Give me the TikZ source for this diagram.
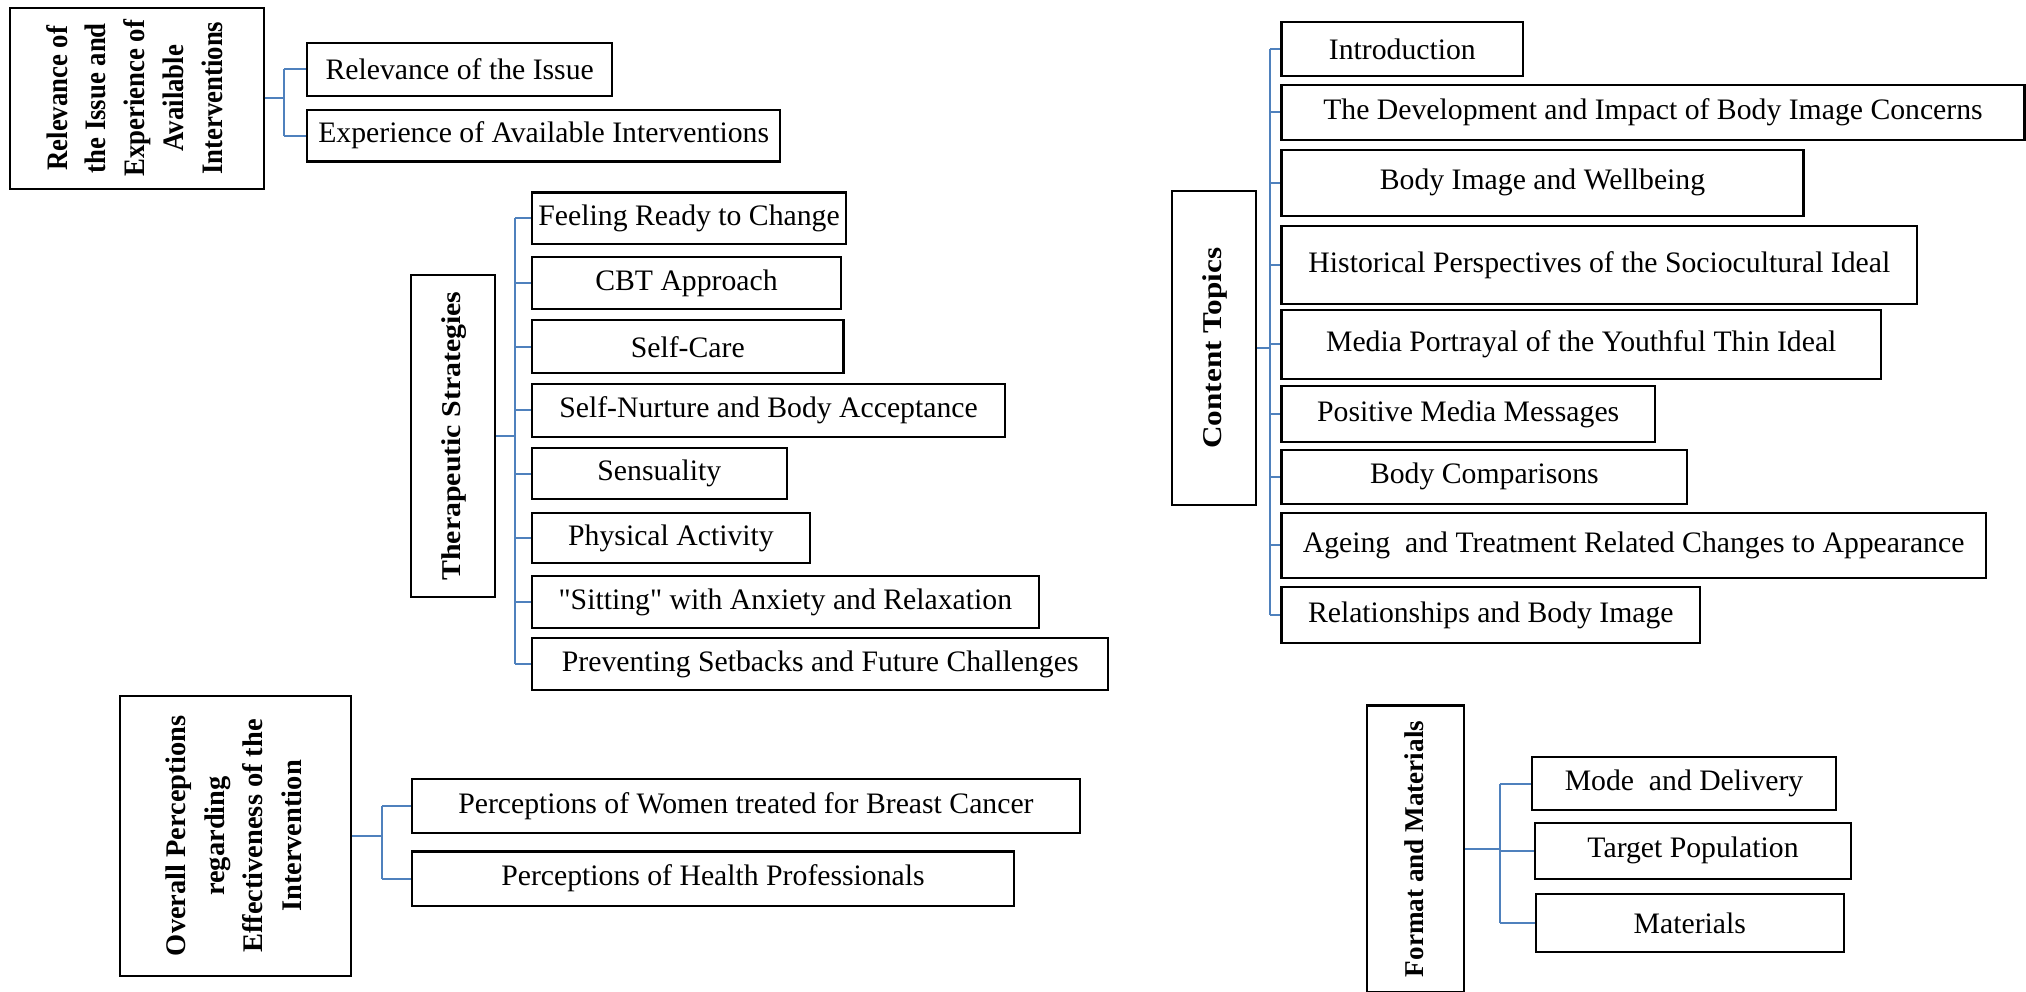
\documentclass[tikz,border=0pt]{standalone}
\usepackage{fontspec}
\setmainfont{Liberation Serif}
\usepackage{xcolor}
\usetikzlibrary{positioning}

\definecolor{linkblue}{RGB}{79,129,189}

% [stretch along text]{font size}{lines}
\newcommand{\vtext}[3][1]{\rotatebox{90}{\scalebox{#1}[1]{\fontsize{#2}{30}\selectfont\bfseries
  \begin{tabular}{@{}c@{}}#3\end{tabular}}}}

\tikzset{
  topic/.style={draw, line width=1.6pt, inner sep=0pt},
  sub/.style={draw, line width=1.6pt, anchor=west, inner sep=0pt,
    font=\fontsize{23}{27}\selectfont},
  link/.style={draw=linkblue, line width=1.6pt}
}

\begin{document}
\begin{tikzpicture}[x=1pt,y=-1pt]
        \clip (0,0) rectangle (1568,767);

        %Relevance
        \node[topic, minimum width=196pt, minimum height=140pt] (rel) at (106,76)
          {\vtext[0.9]{23}{Relevance of\\the Issue and\\Experience of\\Available\\Interventions}};
        \node[sub, minimum width=236pt, minimum height=41pt] (r1) at (237,53.5) {Relevance of the Issue};
        \node[sub, minimum width=366pt, minimum height=40pt] (r2) at (237,105) {Experience of Available Interventions};
        \coordinate (rs) at ([xshift=15pt]rel.east);
        \draw[link] (rel.east) -- (rs);
        \draw[link] (rs |- r1.west) -- (rs |- r2.west);
        \foreach \c in {r1,r2} \draw[link] (rs |- \c.west) -- (\c.west);

        %Therapeutic Strategies
        \node[topic, minimum width=65pt, minimum height=249pt] (ther) at (350.5,337.5)
          {\vtext[1.1]{21}{Therapeutic Strategies}};
        \node[sub, minimum width=243pt, minimum height=40pt] (t1) at (411,169) {Feeling Ready to Change};
        \node[sub, minimum width=239pt, minimum height=40pt] (t2) at (411,219) {CBT Approach};
        \node[sub, minimum width=241pt, minimum height=41pt] (t3) at (411,268.5) {Self-Care};
        \node[sub, minimum width=366pt, minimum height=41pt] (t4) at (411,317.5) {Self-Nurture and Body Acceptance};
        \node[sub, minimum width=197pt, minimum height=39pt] (t5) at (411,366.5) {Sensuality};
        \node[sub, minimum width=215pt, minimum height=39pt] (t6) at (411,416.5) {Physical Activity};
        \node[sub, minimum width=392pt, minimum height=40pt] (t7) at (411,466) {\textquotedbl Sitting\textquotedbl{} with Anxiety and Relaxation};
        \node[sub, minimum width=446pt, minimum height=40pt] (t8) at (411,514) {Preventing Setbacks and Future Challenges};
        \coordinate (ts) at ([xshift=15pt]ther.east);
        \draw[link] (ther.east) -- (ts);
        \draw[link] (ts |- t1.west) -- (ts |- t8.west);
        \foreach \c in {t1,t2,t3,t4,t5,t6,t7,t8} \draw[link] (ts |- \c.west) -- (\c.west);

        %Content Topics
        \node[topic, minimum width=65pt, minimum height=243pt] (cont) at (939.5,269.5)
          {\vtext[1.15]{21}{Content Topics}};
        \node[sub, minimum width=187pt, minimum height=42pt] (c1) at (991,38) {Introduction};
        \node[sub, minimum width=575pt, minimum height=42pt] (c2) at (991,87) {The Development and Impact of Body Image Concerns};
        \node[sub, minimum width=404pt, minimum height=51pt] (c3) at (991,141.5) {Body Image and Wellbeing};
        \node[sub, minimum width=492pt, minimum height=60pt] (c4) at (991,205) {Historical Perspectives of the Sociocultural Ideal};
        \node[sub, minimum width=464pt, minimum height=53pt] (c5) at (991,266.5) {Media Portrayal of the Youthful Thin Ideal};
        \node[sub, minimum width=289pt, minimum height=43pt] (c6) at (991,320.5) {Positive Media Messages};
        \node[sub, minimum width=314pt, minimum height=42pt] (c7) at (991,369) {Body Comparisons};
        \node[sub, minimum width=545pt, minimum height=50pt] (c8) at (991,422) {Ageing~ and Treatment Related Changes to Appearance};
        \node[sub, minimum width=324pt, minimum height=44pt] (c9) at (991,476) {Relationships and Body Image};
        \coordinate (cs) at ([xshift=10pt]cont.east);
        \draw[link] (cont.east) -- (cs);
        \draw[link] (cs |- c1.west) -- (cs |- c9.west);
        \foreach \c in {c1,c2,c3,c4,c5,c6,c7,c8,c9} \draw[link] (cs |- \c.west) -- (\c.west);

        %Overall Perceptions
        \node[topic, minimum width=179pt, minimum height=216pt] (over) at (182.5,647)
          {\vtext{22}{Overall Perceptions\\regarding\\Effectiveness of the\\Intervention}};
        \node[sub, minimum width=517pt, minimum height=42pt] (o1) at (318,624) {Perceptions of Women treated for Breast Cancer};
        \node[sub, minimum width=466pt, minimum height=42pt] (o2) at (318,680) {Perceptions of Health Professionals};
        \coordinate (os) at ([xshift=23pt]over.east);
        \draw[link] (over.east) -- (os);
        \draw[link] (os |- o1.west) -- (os |- o2.west);
        \foreach \c in {o1,o2} \draw[link] (os |- \c.west) -- (\c.west);

        %Format and Materials
        \node[topic, minimum width=75pt, minimum height=222pt] (form) at (1095.5,657)
          {\vtext{21}{Format and Materials}};
        \node[sub, minimum width=235pt, minimum height=41pt] (f1) at (1185,606.5) {Mode~ and Delivery};
        \node[sub, minimum width=245pt, minimum height=43pt] (f2) at (1187,658.5) {Target Population};
        \node[sub, minimum width=238pt, minimum height=45pt] (f3) at (1188,714.5) {Materials};
        \coordinate (fs) at ([xshift=27pt]form.east);
        \draw[link] (form.east) -- (fs);
        \draw[link] (fs |- f1.west) -- (fs |- f3.west);
        \foreach \c in {f1,f2,f3} \draw[link] (fs |- \c.west) -- (\c.west);
\end{tikzpicture}
\end{document}
